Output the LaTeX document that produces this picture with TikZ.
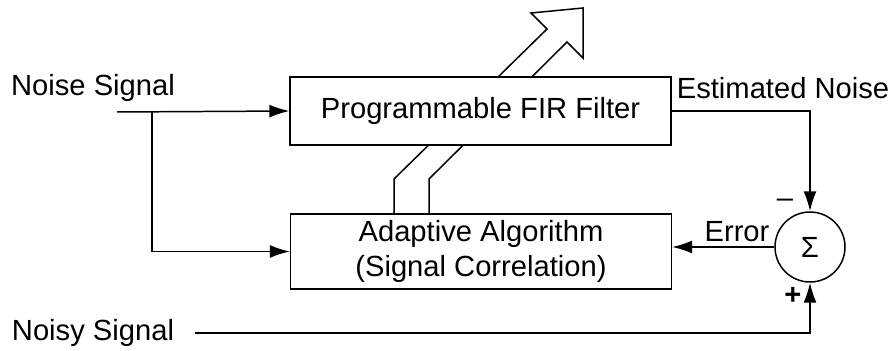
\documentclass[tikz,border=0pt]{standalone}
\usepackage{fontspec}
\setmainfont{Liberation Sans}
\usetikzlibrary{arrows.meta}
\tikzset{>={Latex[length=0.4cm,width=0.26cm]}}

\begin{document}
\begin{tikzpicture}[x=0.02cm, y=-0.02cm, line width=0.85pt, font=\fontsize{16.6}{19.8}\selectfont]
            \tikzset{block/.style={draw, fill=white, rectangle, minimum width=7.62cm, align=center}}
            \tikzset{label/.style={inner sep=0pt}}
            \tikzset{signal/.style={->}}
            \useasboundingbox (0, 0) rectangle (895, 351);
            % wide arrow, partly hidden behind the filter block
            \draw[fill=white] (394, 214) -- (394, 179) -- (547, 29) -- (531, 13) -- (583, 8)
                -- (583, 58) -- (567, 42) -- (429, 179) -- (429, 214) -- cycle;
            \node[block, minimum height=1.36cm] (fir) at (480.5, 111) {Programmable FIR Filter};
            \node[block, minimum height=1.5cm] (adapt) at (481, 251.5) {Adaptive Algorithm\\(Signal Correlation)};
            \node[draw, circle, fill=white, minimum size=1.4cm, inner sep=0pt] (sum) at (810, 247) {Σ};
            \node[label] (noise) at (93, 88) {Noise Signal};
            \node[label] (noisy) at (93, 333) {Noisy Signal};
            \node[label] (est) at (783, 88) {Estimated Noise};
            \node[label] (err) at (737, 232) {Error};
            \node[label] (minus) at (785, 203) {\textendash};
            \node[label] (plus) at (793, 296) {\textbf{+}};
            \coordinate (noisein) at (117, 112);
            \coordinate (branch) at (152, 112);
            \coordinate (noisyin) at (195, 333);
            \draw[signal] (noisein) -- (fir.west);
            \draw[signal] (branch) |- (adapt.west);
            \draw[signal] (fir.east) -| (sum.north);
            \draw[signal] (sum.west) -- (sum.west -| adapt.east);
            \draw[signal] (noisyin) -| (sum.south);
        \end{tikzpicture}
\end{document}
